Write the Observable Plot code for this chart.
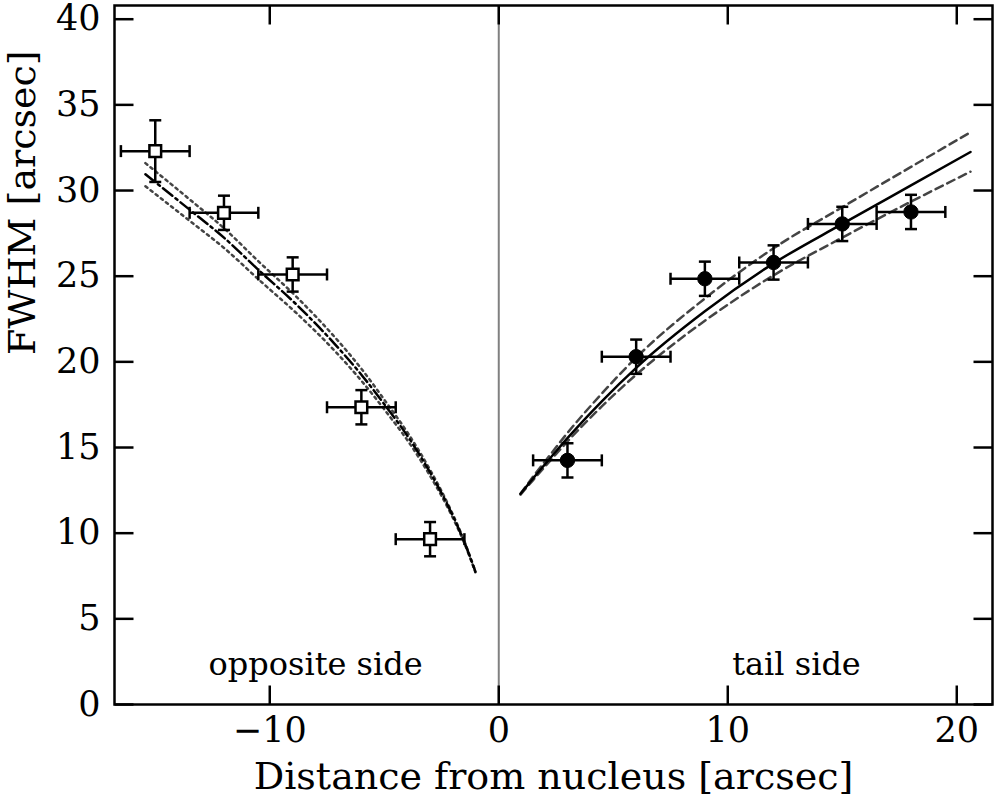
<!DOCTYPE html>
<html>
<head>
<meta charset="utf-8">
<script src="https://cdn.jsdelivr.net/npm/d3@7"></script>
<script src="https://cdn.jsdelivr.net/npm/@observablehq/plot@0.6"></script>
<style>
  html, body { margin: 0; padding: 0; background: #fff; }
  #chart svg { display: block; overflow: visible; }
</style>
</head>
<body>
<div id="chart"></div>
<script>
// ---- data ----
// opposite side (open squares)
const oppX    = [-15, -12, -9, -6, -3];
const oppY    = [32.3, 28.7, 25.1, 17.35, 9.65];
const oppXErr = [1.5, 1.5, 1.5, 1.5, 1.5];
const oppYErr = [1.8, 1.0, 1.0, 1.0, 1.0];

// tail side (filled circles)
const tailX    = [3, 6, 9, 12, 15, 18];
const tailY    = [14.25, 20.3, 24.85, 25.8, 28.05, 28.75];
const tailXErr = [1.5, 1.5, 1.5, 1.5, 1.5, 1.5];
const tailYErr = [1.0, 1.0, 1.0, 1.0, 1.0, 1.0];

// fitted curves, opposite side (dash-dot centre, dotted bounds)
const oppFitX      = [-15.43, -13.47, -12, -10.48, -8.8, -7.1, -6, -4.87, -3.9, -2.98, -2.2, -1.53, -1.02];
const oppFitY      = [30.95, 28.85, 27.25, 25.35, 23.3, 20.95, 19.25, 17.3, 15.5, 13.5, 11.55, 9.57, 7.75];
const oppFitUpperY = [31.6, 29.45, 27.8, 25.85, 23.75, 21.35, 19.6, 17.55, 15.7, 13.65, 11.65, 9.62, 7.77];
const oppFitLowerY = [30.25, 28.2, 26.65, 24.8, 22.8, 20.55, 18.9, 17.0, 15.25, 13.3, 11.42, 9.5, 7.72];

// fitted curves, tail side (solid centre, dashed bounds)
const tailFitX      = [0.95, 1.5, 2.26, 3, 4.5, 6, 9, 12, 15, 18, 20.6];
const tailFitY      = [12.3, 13.2, 14.4, 15.55, 17.7, 19.65, 22.95, 25.75, 28.05, 30.3, 32.25];
const tailFitUpperY = [12.3, 13.3, 14.6, 15.85, 18.15, 20.25, 23.7, 26.63, 29.03, 31.38, 33.4];
const tailFitLowerY = [12.25, 13.1, 14.25, 15.35, 17.4, 19.25, 22.4, 25.05, 27.25, 29.35, 31.1];

// axes
const xDomain = [-16.78, 21.56];
const yDomain = [0, 40.8];
const xTicks = [-10, 0, 10, 20];
const yTicks = [0, 5, 10, 15, 20, 25, 30, 35, 40];
const xLabel = "Distance from nucleus [arcsec]";
const yLabel = "FWHM [arcsec]";
const annotations = [
  {x: -8, y: 2.3, text: "opposite side"},
  {x: 13, y: 2.3, text: "tail side"}
];

// ---- build tables ----
const opp = oppX.map((x, i) => ({x, y: oppY[i], xe: oppXErr[i], ye: oppYErr[i]}));
const tail = tailX.map((x, i) => ({x, y: tailY[i], xe: tailXErr[i], ye: tailYErr[i]}));
const toPts = (xs, ys) => xs.map((x, i) => ({x, y: ys[i]}));
const oppFit = toPts(oppFitX, oppFitY);
const oppUp = toPts(oppFitX, oppFitUpperY);
const oppLo = toPts(oppFitX, oppFitLowerY);
const tailFit = toPts(tailFitX, tailFitY);
const tailUp = toPts(tailFitX, tailFitUpperY);
const tailLo = toPts(tailFitX, tailFitLowerY);

// custom bar symbols for caps and ticks
const vbar = {draw(ctx, size) { const r = Math.sqrt(size / Math.PI); ctx.moveTo(0, -r); ctx.lineTo(0, r); }};
const hbar = {draw(ctx, size) { const r = Math.sqrt(size / Math.PI); ctx.moveTo(-r, 0); ctx.lineTo(r, 0); }};

const FONT = "DejaVu Serif";
const LW = 2.5;

function errorMarks(data) {
  return [
    Plot.link(data, {x1: d => d.x - d.xe, x2: d => d.x + d.xe, y1: "y", y2: "y", stroke: "black", strokeWidth: LW}),
    Plot.link(data, {x1: "x", x2: "x", y1: d => d.y - d.ye, y2: d => d.y + d.ye, stroke: "black", strokeWidth: LW}),
    Plot.dot(data, {x: d => d.x - d.xe, y: "y", symbol: vbar, r: 6, stroke: "black", strokeWidth: LW}),
    Plot.dot(data, {x: d => d.x + d.xe, y: "y", symbol: vbar, r: 6, stroke: "black", strokeWidth: LW}),
    Plot.dot(data, {x: "x", y: d => d.y - d.ye, symbol: hbar, r: 6, stroke: "black", strokeWidth: LW}),
    Plot.dot(data, {x: "x", y: d => d.y + d.ye, symbol: hbar, r: 6, stroke: "black", strokeWidth: LW})
  ];
}

const chart = Plot.plot({
  width: 1000,
  height: 804,
  marginLeft: 114,
  marginRight: 8,
  marginTop: 5,
  marginBottom: 100,
  style: {fontFamily: FONT, fontSize: "35px", background: "white", color: "black", overflow: "visible"},
  x: {domain: xDomain},
  y: {domain: yDomain},
  marks: [
    Plot.ruleX([0], {stroke: "#808080", strokeWidth: 2}),
    // opposite-side fits
    Plot.line(oppUp, {x: "x", y: "y", curve: "monotone-x", stroke: "#444", strokeWidth: 2.5, strokeDasharray: "2.5,4"}),
    Plot.line(oppLo, {x: "x", y: "y", curve: "monotone-x", stroke: "#444", strokeWidth: 2.5, strokeDasharray: "2.5,4"}),
    Plot.line(oppFit, {x: "x", y: "y", curve: "monotone-x", stroke: "black", strokeWidth: LW, strokeDasharray: "12,4,2.5,4"}),
    // tail-side fits
    Plot.line(tailUp, {x: "x", y: "y", curve: "monotone-x", stroke: "#444", strokeWidth: LW, strokeDasharray: "8,5"}),
    Plot.line(tailLo, {x: "x", y: "y", curve: "monotone-x", stroke: "#444", strokeWidth: LW, strokeDasharray: "8,5"}),
    Plot.line(tailFit, {x: "x", y: "y", curve: "monotone-x", stroke: "black", strokeWidth: LW}),
    // error bars
    ...errorMarks(opp),
    ...errorMarks(tail),
    // markers
    Plot.dot(opp, {x: "x", y: "y", symbol: "square", r: 6.6, fill: "white", stroke: "black", strokeWidth: LW}),
    Plot.dot(tail, {x: "x", y: "y", symbol: "circle", r: 7.2, fill: "black", stroke: "black", strokeWidth: 1}),
    // annotations
    Plot.text(annotations, {x: "x", y: "y", text: "text", fontSize: 32, fontFamily: FONT, fill: "black"}),
    // inward ticks on all four sides
    Plot.dot(xTicks, {x: d => d, frameAnchor: "bottom", dy: -9.5, symbol: vbar, r: 9.5, stroke: "black", strokeWidth: LW}),
    Plot.dot(xTicks, {x: d => d, frameAnchor: "top", dy: 9.5, symbol: vbar, r: 9.5, stroke: "black", strokeWidth: LW}),
    Plot.dot(yTicks, {y: d => d, frameAnchor: "left", dx: 9.5, symbol: hbar, r: 9.5, stroke: "black", strokeWidth: LW}),
    Plot.dot(yTicks, {y: d => d, frameAnchor: "right", dx: -9.5, symbol: hbar, r: 9.5, stroke: "black", strokeWidth: LW}),
    // tick labels
    Plot.axisX({ticks: xTicks, tickSize: 0, tickPadding: 13, label: null, fontSize: 35, fontFamily: FONT}),
    Plot.axisY({ticks: yTicks, tickSize: 0, tickPadding: 14, label: null, fontSize: 35, fontFamily: FONT}),
    // axis titles
    Plot.text([xLabel], {frameAnchor: "bottom", dy: 84, text: d => d, fontSize: 38, fontFamily: FONT, fill: "black"}),
    Plot.text([yLabel], {frameAnchor: "left", dx: -92, rotate: -90, text: d => d, fontSize: 38, fontFamily: FONT, fill: "black"}),
    Plot.frame({stroke: "black", strokeWidth: LW})
  ]
});
document.getElementById("chart").appendChild(chart);
</script>
</body>
</html>
